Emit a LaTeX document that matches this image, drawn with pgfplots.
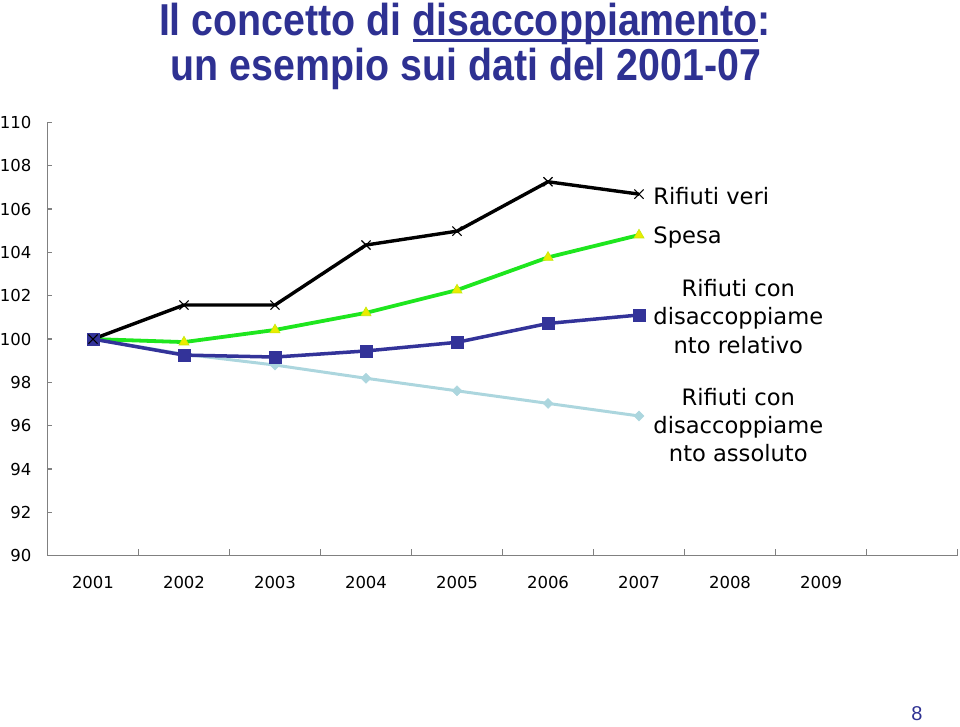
\documentclass[border=0pt]{standalone}
\usepackage{fontspec}
\setmainfont{DejaVu Sans}
\newfontfamily\titlefont[FakeStretch=0.88]{Liberation Sans}
\newfontfamily\numfont{Liberation Sans}
\usepackage{pgfplots}
\pgfplotsset{compat=1.18}
\definecolor{titleblue}{RGB}{46,49,146}
\definecolor{sgreen}{RGB}{30,230,30}
\definecolor{syellow}{RGB}{235,235,0}
\definecolor{snavy}{RGB}{51,51,153}
\definecolor{slight}{RGB}{172,214,222}
\newcommand\ulbar[1]{\setbox0\hbox{#1}\rlap{\rule[-6pt]{\wd0}{3pt}}\box0}
\newcommand\lbl{\fontsize{22.6}{28.4}\selectfont}
\begin{document}
\begin{tikzpicture}
\path[use as bounding box] (-47.5pt,-170.3pt) rectangle (912.5pt,555.7pt);
\node[anchor=base,inner sep=0,text=titleblue,font=\titlefont\bfseries\fontsize{44.7}{50}\selectfont] at (417.5pt,519.7pt) {Il concetto di \ulbar{disaccoppiamento}:};
\node[anchor=base,inner sep=0,text=titleblue,font=\titlefont\bfseries\fontsize{44.7}{50}\selectfont] at (418.5pt,474.7pt) {un esempio sui dati del 2001-07};
\node[anchor=center,inner sep=0,text=titleblue,font=\numfont\fontsize{20}{24}\selectfont] at (869.5pt,-158.3pt) {8};
\begin{axis}[
  scale only axis,
  width=910pt, height=433.3pt,
  xmin=-0.5, xmax=9.5, ymin=90, ymax=110,
  axis lines=left,
  axis line style={draw=gray, line width=1.4pt, -},
  xtick={0,1,2,3,4,5,6,7,8},
  xticklabels={2001,2002,2003,2004,2005,2006,2007,2008,2009},
  minor xtick={0.5,1.5,2.5,3.5,4.5,5.5,6.5,7.5,8.5,9.5},
  major x tick style={draw=none},
  ytick={90,92,...,110},
  tick align=inside,
  major tick length=5pt, minor tick length=7pt,
  tick style={draw=gray, line width=1.2pt},
  /pgf/number format/assume math mode=true,
  xticklabel style={font=\fontsize{16.5}{19}\selectfont, inner sep=0pt, yshift=-20pt},
  yticklabel style={font=\fontsize{16.5}{19}\selectfont, inner sep=0pt, xshift=-16pt},
  clip=false,
]
\addplot[color=slight, line width=3pt, mark=diamond*, mark size=5pt, mark options={fill=slight, draw=slight, line width=0.5pt, xscale=1.33}]
  coordinates {(0,100)(1,99.3)(2,98.8)(3,98.19)(4,97.61)(5,97.03)(6,96.45)};
\addplot[color=sgreen, line width=3.8pt, mark=triangle*, mark size=5.8pt, mark options={fill=syellow, draw=syellow!80!sgreen, line width=0.6pt}]
  coordinates {(0,100)(1,99.86)(2,100.42)(3,101.21)(4,102.26)(5,103.77)(6,104.80)};
\addplot[color=snavy, line width=3.5pt, mark=square*, mark size=6pt, mark options={fill=snavy, draw=snavy, line width=0.5pt}]
  coordinates {(0,100)(1,99.26)(2,99.17)(3,99.45)(4,99.85)(5,100.72)(6,101.11)};
\addplot[color=black, line width=3.4pt, mark=x, mark size=6.5pt, mark options={line width=1.1pt}]
  coordinates {(0,100)(1,101.57)(2,101.57)(3,104.34)(4,104.98)(5,107.26)(6,106.69)};
\node[anchor=base west, inner sep=0, font=\lbl] at (axis cs:6.157,106.216) {Rifiuti veri};
\node[anchor=base west, inner sep=0, font=\lbl] at (axis cs:6.157,104.416) {Spesa};
\node[anchor=base, inner sep=0, font=\lbl] at (axis cs:7.091,101.984) {Rifiuti con};
\node[anchor=base, inner sep=0, font=\lbl] at (axis cs:7.091,100.669) {disaccoppiame};
\node[anchor=base, inner sep=0, font=\lbl] at (axis cs:7.091,99.354) {nto relativo};
\node[anchor=base, inner sep=0, font=\lbl] at (axis cs:7.091,96.954) {Rifiuti con};
\node[anchor=base, inner sep=0, font=\lbl] at (axis cs:7.091,95.648) {disaccoppiame};
\node[anchor=base, inner sep=0, font=\lbl] at (axis cs:7.091,94.338) {nto assoluto};
\end{axis}
\end{tikzpicture}
\end{document}
